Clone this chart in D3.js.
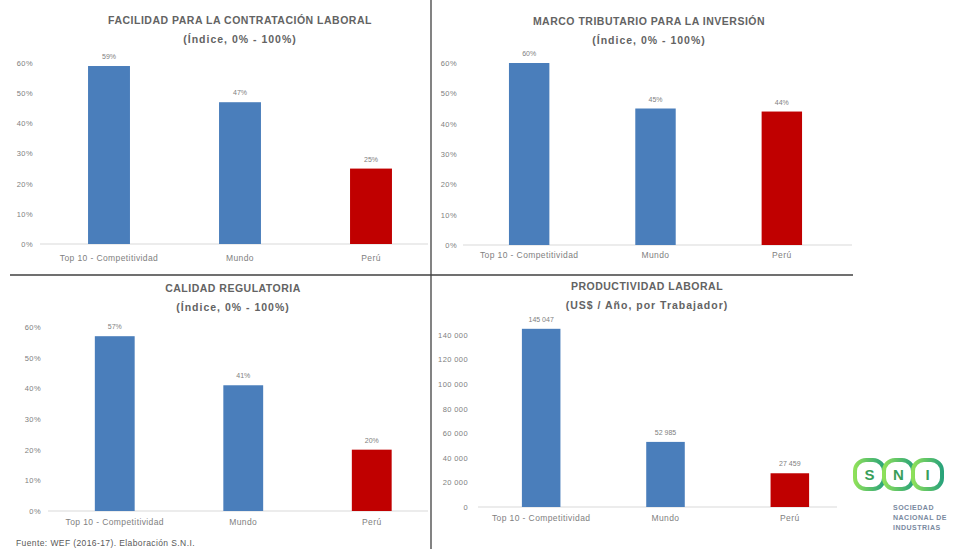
<!DOCTYPE html>
<html><head><meta charset="utf-8">
<script src="https://cdn.jsdelivr.net/npm/d3@7"></script>
<style>body{margin:0;background:#fff}svg{display:block;font-family:"Liberation Sans",Arial,sans-serif}</style>
</head><body>
<svg id="c" width="962" height="549"></svg>
<script>
const categories = ["Top 10 - Competitividad", "Mundo", "Perú"];
const contratacion = [59, 47, 25];
const tributario = [60, 45, 44];
const regulatoria = [57, 41, 20];
const productividad = [145047, 52985, 27459];
const pctTicks = [0, 10, 20, 30, 40, 50, 60];
const prodTicks = [0, 20000, 40000, 60000, 80000, 100000, 120000, 140000];
const titles = ["FACILIDAD PARA LA CONTRATACIÓN LABORAL", "MARCO TRIBUTARIO PARA LA INVERSIÓN", "CALIDAD REGULATORIA", "PRODUCTIVIDAD LABORAL"];
const subtitles = ["(Índice, 0% - 100%)", "(Índice, 0% - 100%)", "(Índice, 0% - 100%)", "(US$ / Año, por Trabajador)"];
const barColors = ["#4a7ebb", "#4a7ebb", "#c00000"];

const svg = d3.select("#c");
const fmtPct = d => d + "%";
const fmtNum = d => d3.format(",")(d).replace(/,/g, " ");

const panels = [
  {values: contratacion, ticks: pctTicks, max: 60, fmt: fmtPct, xr: [43.5, 436.5], yr: [244, 63], base: [40, 428], tickX: 33, catY: 262, tx: 240, ty: 24, sy: 43, inner: 0.68},
  {values: tributario, ticks: pctTicks, max: 60, fmt: fmtPct, xr: [466, 845], yr: [245, 63], base: [463, 852], tickX: 457, catY: 259, tx: 649, ty: 25, sy: 44, inner: 0.68},
  {values: regulatoria, ticks: pctTicks, max: 60, fmt: fmtPct, xr: [50.5, 436], yr: [511, 327], base: [48, 428], tickX: 41, catY: 526, tx: 233, ty: 292, sy: 311, inner: 0.69},
  {values: productividad, ticks: prodTicks, max: 140000, fmt: fmtNum, xr: [479, 852], yr: [507, 335], base: [478, 837], tickX: 468, catY: 522, tx: 647, ty: 290, sy: 309, inner: 0.69}
];

panels.forEach((p, i) => {
  const g = svg.append("g");
  const x = d3.scaleBand().domain(categories).range(p.xr).paddingInner(p.inner).paddingOuter(p.inner / 2);
  const y = d3.scaleLinear().domain([0, p.max]).range(p.yr);

  g.append("text").attr("x", p.tx).attr("y", p.ty).attr("text-anchor", "middle")
    .attr("font-size", 10.5).attr("letter-spacing", 0.5).attr("font-weight", "bold").attr("fill", "#636363").text(titles[i]);
  g.append("text").attr("x", p.tx).attr("y", p.sy).attr("text-anchor", "middle")
    .attr("font-size", 10.5).attr("letter-spacing", 1).attr("font-weight", "bold").attr("fill", "#636363").text(subtitles[i]);

  const ax = g.append("g").attr("transform", `translate(${p.tickX + 3},0)`)
    .call(d3.axisLeft(y).tickValues(p.ticks).tickFormat(p.fmt).tickSize(0).tickPadding(3));
  ax.select(".domain").remove();
  ax.selectAll("text").attr("font-size", 7.5).attr("letter-spacing", 0.4).attr("fill", "#808080").attr("font-family", "Liberation Sans, Arial, sans-serif");

  g.append("line").attr("x1", p.base[0]).attr("x2", p.base[1]).attr("y1", y(0)).attr("y2", y(0))
    .attr("stroke", "#d9d9d9").attr("stroke-width", 1);

  g.selectAll("rect.bar").data(p.values).enter().append("rect").attr("class", "bar")
    .attr("x", (d, j) => x(categories[j])).attr("width", x.bandwidth())
    .attr("y", d => y(d)).attr("height", d => y(0) - y(d))
    .attr("fill", (d, j) => barColors[j]);

  g.selectAll("text.val").data(p.values).enter().append("text").attr("class", "val")
    .attr("x", (d, j) => x(categories[j]) + x.bandwidth() / 2).attr("y", d => y(d) - 7)
    .attr("text-anchor", "middle").attr("font-size", 7).attr("fill", "#808080").text(p.fmt);

  const xa = g.append("g").attr("transform", `translate(0,${p.catY - 10})`)
    .call(d3.axisBottom(x).tickSize(0).tickPadding(3));
  xa.select(".domain").remove();
  xa.selectAll("text").attr("font-size", 8.5).attr("letter-spacing", 0.4).attr("fill", "#808080").attr("font-family", "Liberation Sans, Arial, sans-serif");
});

svg.append("line").attr("x1", 431).attr("x2", 431).attr("y1", 0).attr("y2", 549).attr("stroke", "#404040").attr("stroke-width", 1.3);
svg.append("line").attr("x1", 10).attr("x2", 853).attr("y1", 275).attr("y2", 275).attr("stroke", "#404040").attr("stroke-width", 1.3);

svg.append("text").attr("x", 16).attr("y", 546).attr("font-size", 8.5).attr("letter-spacing", 0.4).attr("fill", "#595959")
  .text("Fuente: WEF (2016-17). Elaboración S.N.I.");

const logo = svg.append("g").attr("transform", "translate(855,460)");
const letters = ["S", "N", "I"];
const grad = svg.append("defs").append("linearGradient").attr("id", "lg").attr("x1", 0).attr("x2", 1);
grad.append("stop").attr("offset", "0%").attr("stop-color", "#8ee05a");
grad.append("stop").attr("offset", "100%").attr("stop-color", "#2aa37a");
letters.forEach((l, k) => {
  logo.append("rect").attr("x", k * 29).attr("y", 0).attr("width", 29).attr("height", 29).attr("rx", 11)
    .attr("fill", "none").attr("stroke", "url(#lg)").attr("stroke-width", 4);
  logo.append("text").attr("x", k * 29 + 14.5).attr("y", 20).attr("text-anchor", "middle")
    .attr("font-size", 15).attr("font-weight", "bold").attr("fill", "#3a9e5a").text(l);
});
["SOCIEDAD", "NACIONAL DE", "INDUSTRIAS"].forEach((t, k) => {
  svg.append("text").attr("x", 893).attr("y", 510 + k * 10).attr("font-size", 7).attr("letter-spacing", 0.5).attr("font-weight", "bold")
    .attr("fill", "#7a8aa0").text(t);
});
</script>
</body></html>
